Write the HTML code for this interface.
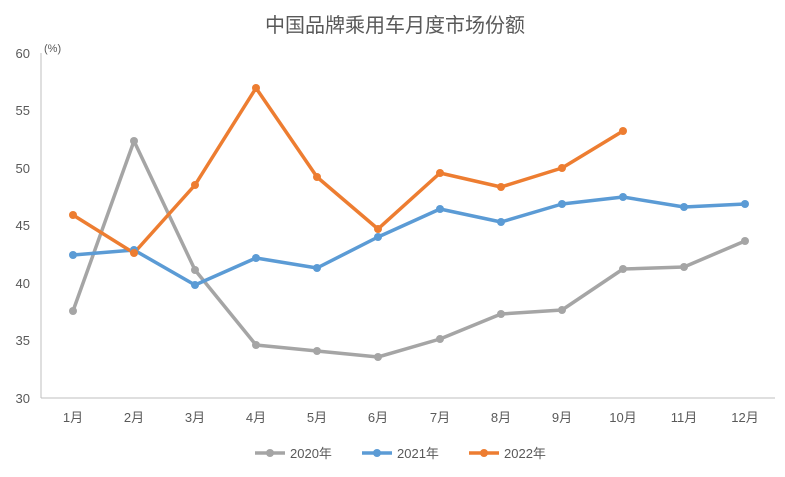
<!DOCTYPE html>
<html><head><meta charset="utf-8"><style>
body{margin:0;background:#fff;}
svg text{font-family:"Liberation Sans","Noto Sans CJK SC",sans-serif;fill:#595959;}
</style></head><body>
<svg width="785" height="472" xmlns="http://www.w3.org/2000/svg">
<rect width="785" height="472" fill="#fff"/>
<text x="395" y="32" font-size="20" text-anchor="middle">中国品牌乘用车月度市场份额</text>
<text x="44" y="52" font-size="11">(%)</text>
<line x1="41" y1="53" x2="41" y2="398" stroke="#bfbfbf"/>
<line x1="41" y1="398" x2="775" y2="398" stroke="#bfbfbf"/>
<g font-size="13" text-anchor="end">
<text x="30" y="403">30</text><text x="30" y="345">35</text><text x="30" y="288">40</text>
<text x="30" y="230">45</text><text x="30" y="173">50</text><text x="30" y="115">55</text><text x="30" y="58">60</text>
</g>
<g font-size="13" text-anchor="middle">
<text x="73" y="422">1月</text><text x="134" y="422">2月</text><text x="195" y="422">3月</text>
<text x="256" y="422">4月</text><text x="317" y="422">5月</text><text x="378" y="422">6月</text>
<text x="440" y="422">7月</text><text x="501" y="422">8月</text><text x="562" y="422">9月</text>
<text x="623" y="422">10月</text><text x="684" y="422">11月</text><text x="745" y="422">12月</text>
</g>
<g fill="none" stroke-width="3.5" stroke-linejoin="round">
<polyline stroke="#A5A5A5" points="73,311 134,141 195,270 256,345 317,351 378,357 440,339 501,314 562,310 623,269 684,267 745,241"/>
<polyline stroke="#5B9BD5" points="73,255 134,250 195,285 256,258 317,268 378,237 440,209 501,222 562,204 623,197 684,207 745,204"/>
<polyline stroke="#ED7D31" points="73,215 134,253 195,185 256,88 317,177 378,229 440,173 501,187 562,168 623,131"/>
</g>
<g fill="#A5A5A5"><circle cx="73" cy="311" r="4"/><circle cx="134" cy="141" r="4"/><circle cx="195" cy="270" r="4"/><circle cx="256" cy="345" r="4"/><circle cx="317" cy="351" r="4"/><circle cx="378" cy="357" r="4"/><circle cx="440" cy="339" r="4"/><circle cx="501" cy="314" r="4"/><circle cx="562" cy="310" r="4"/><circle cx="623" cy="269" r="4"/><circle cx="684" cy="267" r="4"/><circle cx="745" cy="241" r="4"/></g>
<g fill="#5B9BD5"><circle cx="73" cy="255" r="4"/><circle cx="134" cy="250" r="4"/><circle cx="195" cy="285" r="4"/><circle cx="256" cy="258" r="4"/><circle cx="317" cy="268" r="4"/><circle cx="378" cy="237" r="4"/><circle cx="440" cy="209" r="4"/><circle cx="501" cy="222" r="4"/><circle cx="562" cy="204" r="4"/><circle cx="623" cy="197" r="4"/><circle cx="684" cy="207" r="4"/><circle cx="745" cy="204" r="4"/></g>
<g fill="#ED7D31"><circle cx="73" cy="215" r="4"/><circle cx="134" cy="253" r="4"/><circle cx="195" cy="185" r="4"/><circle cx="256" cy="88" r="4"/><circle cx="317" cy="177" r="4"/><circle cx="378" cy="229" r="4"/><circle cx="440" cy="173" r="4"/><circle cx="501" cy="187" r="4"/><circle cx="562" cy="168" r="4"/><circle cx="623" cy="131" r="4"/></g>
<g font-size="13" stroke-width="3.5">
<line x1="255" y1="453" x2="285" y2="453" stroke="#A5A5A5"/><circle cx="270" cy="453" r="4" fill="#A5A5A5"/><text x="290" y="458">2020年</text>
<line x1="362" y1="453" x2="392" y2="453" stroke="#5B9BD5"/><circle cx="377" cy="453" r="4" fill="#5B9BD5"/><text x="397" y="458">2021年</text>
<line x1="469" y1="453" x2="499" y2="453" stroke="#ED7D31"/><circle cx="484" cy="453" r="4" fill="#ED7D31"/><text x="504" y="458">2022年</text>
</g>
</svg>
</body></html>
